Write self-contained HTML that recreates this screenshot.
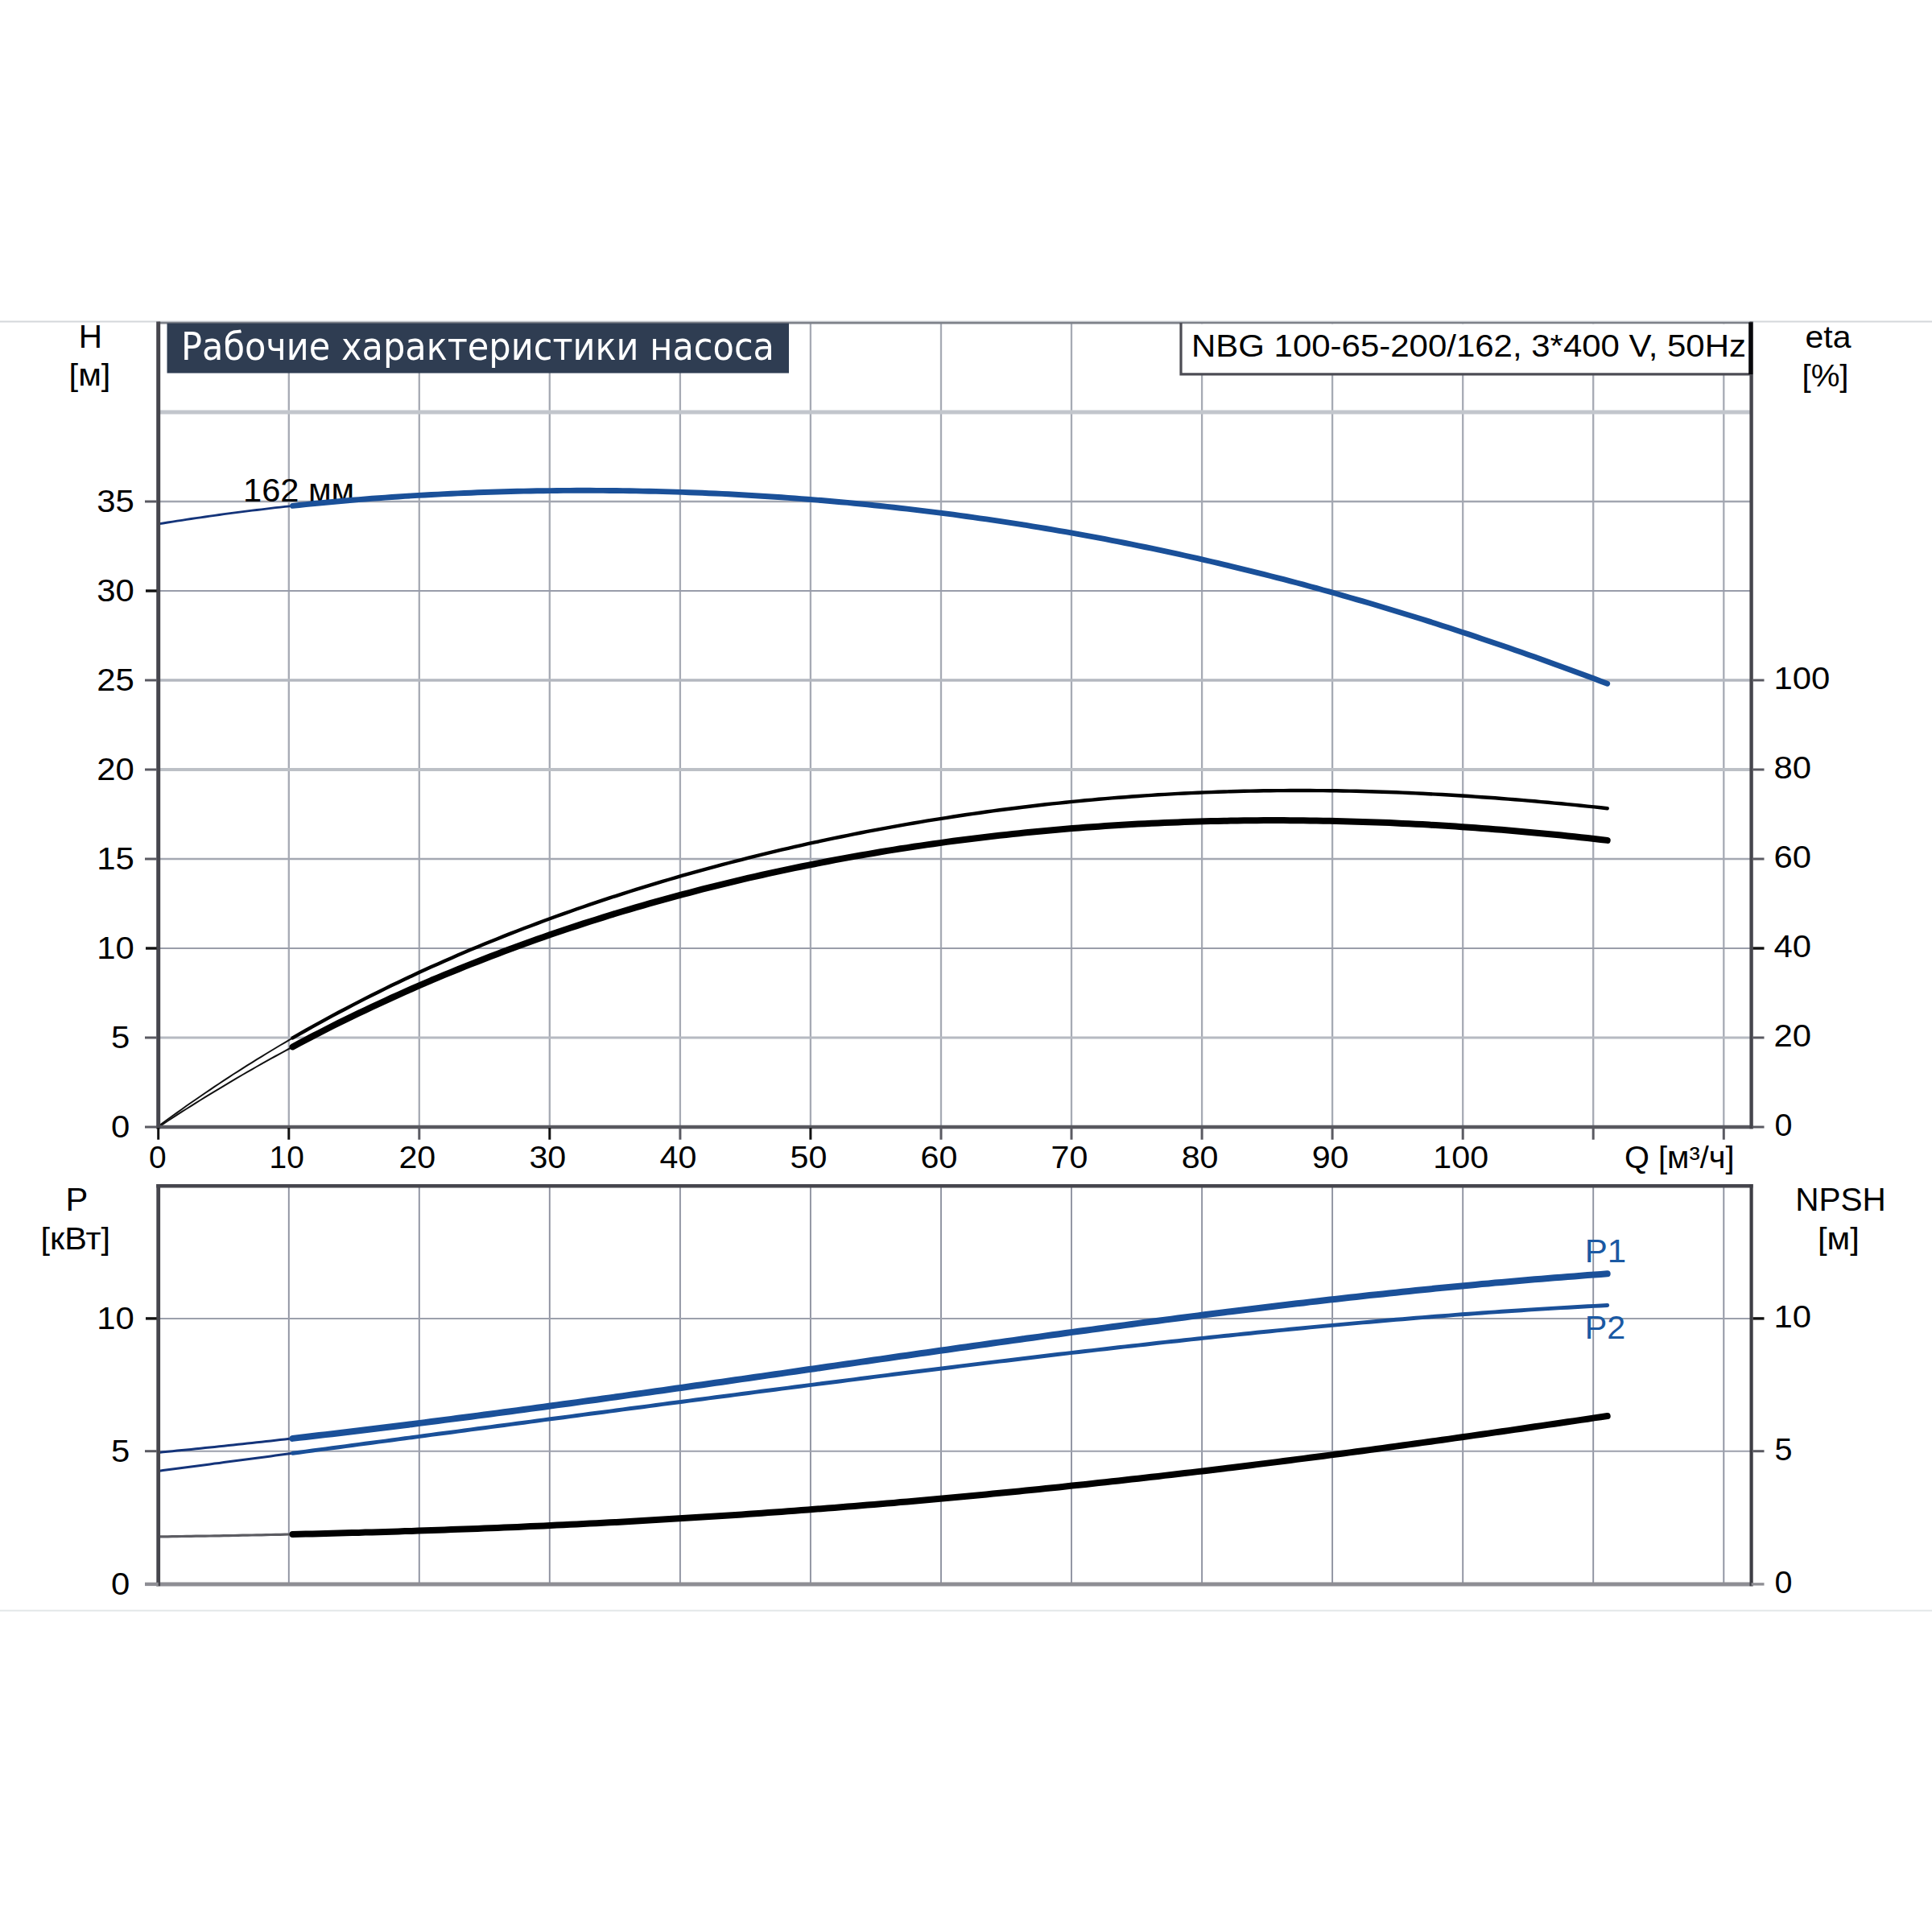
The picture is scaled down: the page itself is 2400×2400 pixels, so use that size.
<!DOCTYPE html>
<html lang="ru"><head><meta charset="utf-8"><title>Рабочие характеристики насоса</title>
<style>
html,body{margin:0;padding:0;background:#fff;}
body{width:2400px;height:2400px;overflow:hidden;}
svg{display:block;}
text{font-family:"Liberation Sans",Arial,sans-serif;}
.ttl{font-family:"DejaVu Sans Condensed","DejaVu Sans",sans-serif;}
</style></head><body>
<svg width="2400" height="2400" viewBox="0 0 2400 2400">
<rect x="0" y="0" width="2400" height="2400" fill="#ffffff"/>

<line x1="0" y1="399.5" x2="2400" y2="399.5" stroke="#d4d7db" stroke-width="2"/>
<line x1="0" y1="2000.8" x2="2400" y2="2000.8" stroke="#e3e7e9" stroke-width="2"/>
<g stroke="#a6aab4" stroke-width="2.3" fill="none">
<line x1="358.8" y1="401" x2="358.8" y2="1400"/>
<line x1="520.8" y1="401" x2="520.8" y2="1400"/>
<line x1="682.8" y1="401" x2="682.8" y2="1400"/>
<line x1="844.9" y1="401" x2="844.9" y2="1400"/>
<line x1="1006.9" y1="401" x2="1006.9" y2="1400"/>
<line x1="1169.0" y1="401" x2="1169.0" y2="1400"/>
<line x1="1331.0" y1="401" x2="1331.0" y2="1400"/>
<line x1="1493.1" y1="401" x2="1493.1" y2="1400"/>
<line x1="1655.1" y1="401" x2="1655.1" y2="1400"/>
<line x1="1817.2" y1="401" x2="1817.2" y2="1400"/>
<line x1="1979.2" y1="401" x2="1979.2" y2="1400"/>
<line x1="2141.3" y1="401" x2="2141.3" y2="1400"/>
<line x1="196.7" y1="1289.0" x2="2175.6" y2="1289.0" stroke="#b6bac2" stroke-width="3.2"/>
<line x1="196.7" y1="1178.0" x2="2175.6" y2="1178.0" stroke="#9a9eaa" stroke-width="2.0"/>
<line x1="196.7" y1="1067.0" x2="2175.6" y2="1067.0" stroke="#a4a8b2" stroke-width="2.4"/>
<line x1="196.7" y1="956.0" x2="2175.6" y2="956.0" stroke="#bcc0c6" stroke-width="3.8"/>
<line x1="196.7" y1="845.0" x2="2175.6" y2="845.0" stroke="#b4b8c0" stroke-width="3.4"/>
<line x1="196.7" y1="734.0" x2="2175.6" y2="734.0" stroke="#989caa" stroke-width="2.0"/>
<line x1="196.7" y1="623.0" x2="2175.6" y2="623.0" stroke="#a2a6b0" stroke-width="2.4"/>
</g>
<line x1="196.7" y1="512" x2="2175.6" y2="512" stroke="#c2c6cc" stroke-width="5"/>
<line x1="196.7" y1="401.2" x2="2175.6" y2="401.2" stroke="#7e828a" stroke-width="2.8"/>
<g stroke="#8e92a0" stroke-width="1.9" fill="none">
<line x1="358.8" y1="1473" x2="358.8" y2="1967.5"/>
<line x1="520.8" y1="1473" x2="520.8" y2="1967.5"/>
<line x1="682.8" y1="1473" x2="682.8" y2="1967.5"/>
<line x1="844.9" y1="1473" x2="844.9" y2="1967.5"/>
<line x1="1006.9" y1="1473" x2="1006.9" y2="1967.5"/>
<line x1="1169.0" y1="1473" x2="1169.0" y2="1967.5"/>
<line x1="1331.0" y1="1473" x2="1331.0" y2="1967.5"/>
<line x1="1493.1" y1="1473" x2="1493.1" y2="1967.5"/>
<line x1="1655.1" y1="1473" x2="1655.1" y2="1967.5"/>
<line x1="1817.2" y1="1473" x2="1817.2" y2="1967.5"/>
<line x1="1979.2" y1="1473" x2="1979.2" y2="1967.5"/>
<line x1="2141.3" y1="1473" x2="2141.3" y2="1967.5"/>
<line x1="196.7" y1="1802.7" x2="2175.6" y2="1802.7" stroke="#9ca0ac" stroke-width="2"/>
<line x1="196.7" y1="1637.9" x2="2175.6" y2="1637.9" stroke="#9ca0ac" stroke-width="2"/>
</g>
<text transform="translate(302.0 623.3) scale(1.04 1)" font-size="40" text-anchor="start" fill="#000">162 мм</text>
<path d="M196.7 1399.1 L202.5 1394.8 L208.3 1390.5 L214.2 1386.3 L220.0 1382.1 L225.8 1378.0 L231.6 1373.8 L237.4 1369.8 L243.3 1365.7 L249.1 1361.7 L254.9 1357.7 L260.7 1353.8 L266.5 1349.9 L272.4 1346.0 L278.2 1342.1 L284.0 1338.3 L289.8 1334.5 L295.7 1330.8 L301.5 1327.1 L307.3 1323.4 L313.1 1319.8 L318.9 1316.1 L324.8 1312.6 L330.6 1309.0 L336.4 1305.5 L342.2 1302.0 L348.0 1298.5 L353.9 1295.1 L359.7 1291.7 L365.5 1288.3" fill="none" stroke="#111" stroke-width="2.0"/>
<path d="M363.5 1289.4 L371.7 1284.7 L379.9 1280.0 L388.1 1275.4 L396.3 1270.9 L404.5 1266.4 L412.7 1261.9 L420.9 1257.5 L429.2 1253.2 L437.4 1248.9 L445.6 1244.6 L453.8 1240.4 L462.0 1236.3 L470.2 1232.2 L478.4 1228.1 L486.6 1224.1 L494.8 1220.2 L503.0 1216.3 L511.2 1212.4 L519.4 1208.6 L527.6 1204.8 L535.8 1201.1 L544.1 1197.4 L552.3 1193.8 L560.5 1190.2 L568.7 1186.6 L576.9 1183.1 L585.1 1179.6 L593.3 1176.2 L601.5 1172.8 L609.7 1169.5 L617.9 1166.2 L626.1 1162.9 L634.3 1159.6 L642.5 1156.5 L650.7 1153.3 L659.0 1150.2 L667.2 1147.1 L675.4 1144.0 L683.6 1141.0 L691.8 1138.0 L700.0 1135.1 L708.2 1132.2 L716.4 1129.3 L724.6 1126.5 L732.8 1123.7 L741.0 1120.9 L749.2 1118.1 L757.4 1115.4 L765.6 1112.8 L773.9 1110.1 L782.1 1107.5 L790.3 1104.9 L798.5 1102.4 L806.7 1099.9 L814.9 1097.4 L823.1 1094.9 L831.3 1092.5 L839.5 1090.1 L847.7 1087.7 L855.9 1085.4 L864.1 1083.1 L872.3 1080.8 L880.5 1078.6 L888.8 1076.4 L897.0 1074.2 L905.2 1072.0 L913.4 1069.9 L921.6 1067.8 L929.8 1065.7 L938.0 1063.6 L946.2 1061.6 L954.4 1059.6 L962.6 1057.7 L970.8 1055.7 L979.0 1053.8 L987.2 1051.9 L995.4 1050.1 L1003.6 1048.2 L1011.9 1046.4 L1020.1 1044.7 L1028.3 1042.9 L1036.5 1041.2 L1044.7 1039.5 L1052.9 1037.8 L1061.1 1036.2 L1069.3 1034.5 L1077.5 1032.9 L1085.7 1031.4 L1093.9 1029.8 L1102.1 1028.3 L1110.3 1026.8 L1118.5 1025.3 L1126.8 1023.9 L1135.0 1022.5 L1143.2 1021.1 L1151.4 1019.7 L1159.6 1018.4 L1167.8 1017.1 L1176.0 1015.8 L1184.2 1014.5 L1192.4 1013.3 L1200.6 1012.0 L1208.8 1010.9 L1217.0 1009.7 L1225.2 1008.5 L1233.4 1007.4 L1241.7 1006.3 L1249.9 1005.3 L1258.1 1004.2 L1266.3 1003.2 L1274.5 1002.2 L1282.7 1001.2 L1290.9 1000.3 L1299.1 999.3 L1307.3 998.4 L1315.5 997.6 L1323.7 996.7 L1331.9 995.9 L1340.1 995.1 L1348.3 994.3 L1356.6 993.6 L1364.8 992.8 L1373.0 992.1 L1381.2 991.4 L1389.4 990.8 L1397.6 990.2 L1405.8 989.5 L1414.0 989.0 L1422.2 988.4 L1430.4 987.9 L1438.6 987.3 L1446.8 986.9 L1455.0 986.4 L1463.2 985.9 L1471.4 985.5 L1479.7 985.1 L1487.9 984.8 L1496.1 984.4 L1504.3 984.1 L1512.5 983.8 L1520.7 983.5 L1528.9 983.3 L1537.1 983.0 L1545.3 982.8 L1553.5 982.6 L1561.7 982.5 L1569.9 982.3 L1578.1 982.2 L1586.3 982.1 L1594.6 982.1 L1602.8 982.0 L1611.0 982.0 L1619.2 982.0 L1627.4 982.0 L1635.6 982.1 L1643.8 982.1 L1652.0 982.2 L1660.2 982.3 L1668.4 982.5 L1676.6 982.6 L1684.8 982.8 L1693.0 983.0 L1701.2 983.2 L1709.5 983.5 L1717.7 983.7 L1725.9 984.0 L1734.1 984.3 L1742.3 984.6 L1750.5 985.0 L1758.7 985.4 L1766.9 985.8 L1775.1 986.2 L1783.3 986.6 L1791.5 987.0 L1799.7 987.5 L1807.9 988.0 L1816.1 988.5 L1824.4 989.0 L1832.6 989.6 L1840.8 990.2 L1849.0 990.7 L1857.2 991.3 L1865.4 992.0 L1873.6 992.6 L1881.8 993.3 L1890.0 993.9 L1898.2 994.6 L1906.4 995.3 L1914.6 996.1 L1922.8 996.8 L1931.0 997.6 L1939.3 998.3 L1947.5 999.1 L1955.7 999.9 L1963.9 1000.8 L1972.1 1001.6 L1980.3 1002.4 L1988.5 1003.3 L1996.7 1004.2" fill="none" stroke="#000" stroke-width="4.4" stroke-linecap="round" stroke-linejoin="round"/>
<path d="M196.7 1400.2 L202.5 1396.3 L208.3 1392.5 L214.2 1388.7 L220.0 1384.9 L225.8 1381.2 L231.6 1377.5 L237.4 1373.8 L243.3 1370.1 L249.1 1366.5 L254.9 1362.9 L260.7 1359.3 L266.5 1355.8 L272.4 1352.3 L278.2 1348.8 L284.0 1345.3 L289.8 1341.8 L295.7 1338.4 L301.5 1335.0 L307.3 1331.7 L313.1 1328.3 L318.9 1325.0 L324.8 1321.7 L330.6 1318.4 L336.4 1315.2 L342.2 1312.0 L348.0 1308.8 L353.9 1305.6 L359.7 1302.5 L365.5 1299.3" fill="none" stroke="#111" stroke-width="2.0"/>
<path d="M363.5 1300.4 L371.7 1296.0 L379.9 1291.7 L388.1 1287.4 L396.3 1283.2 L404.5 1279.0 L412.7 1274.8 L420.9 1270.7 L429.2 1266.7 L437.4 1262.7 L445.6 1258.7 L453.8 1254.8 L462.0 1250.9 L470.2 1247.1 L478.4 1243.3 L486.6 1239.5 L494.8 1235.8 L503.0 1232.1 L511.2 1228.5 L519.4 1224.9 L527.6 1221.4 L535.8 1217.8 L544.1 1214.4 L552.3 1210.9 L560.5 1207.6 L568.7 1204.2 L576.9 1200.9 L585.1 1197.6 L593.3 1194.4 L601.5 1191.2 L609.7 1188.0 L617.9 1184.9 L626.1 1181.8 L634.3 1178.7 L642.5 1175.7 L650.7 1172.7 L659.0 1169.8 L667.2 1166.8 L675.4 1164.0 L683.6 1161.1 L691.8 1158.3 L700.0 1155.5 L708.2 1152.8 L716.4 1150.1 L724.6 1147.4 L732.8 1144.8 L741.0 1142.2 L749.2 1139.6 L757.4 1137.0 L765.6 1134.5 L773.9 1132.0 L782.1 1129.6 L790.3 1127.2 L798.5 1124.8 L806.7 1122.4 L814.9 1120.1 L823.1 1117.8 L831.3 1115.6 L839.5 1113.3 L847.7 1111.1 L855.9 1109.0 L864.1 1106.8 L872.3 1104.7 L880.5 1102.6 L888.8 1100.6 L897.0 1098.6 L905.2 1096.6 L913.4 1094.6 L921.6 1092.7 L929.8 1090.7 L938.0 1088.9 L946.2 1087.0 L954.4 1085.2 L962.6 1083.4 L970.8 1081.6 L979.0 1079.9 L987.2 1078.2 L995.4 1076.5 L1003.6 1074.8 L1011.9 1073.2 L1020.1 1071.6 L1028.3 1070.0 L1036.5 1068.4 L1044.7 1066.9 L1052.9 1065.4 L1061.1 1063.9 L1069.3 1062.5 L1077.5 1061.1 L1085.7 1059.7 L1093.9 1058.3 L1102.1 1056.9 L1110.3 1055.6 L1118.5 1054.3 L1126.8 1053.1 L1135.0 1051.8 L1143.2 1050.6 L1151.4 1049.4 L1159.6 1048.2 L1167.8 1047.1 L1176.0 1045.9 L1184.2 1044.8 L1192.4 1043.8 L1200.6 1042.7 L1208.8 1041.7 L1217.0 1040.7 L1225.2 1039.7 L1233.4 1038.8 L1241.7 1037.8 L1249.9 1036.9 L1258.1 1036.0 L1266.3 1035.2 L1274.5 1034.3 L1282.7 1033.5 L1290.9 1032.7 L1299.1 1032.0 L1307.3 1031.2 L1315.5 1030.5 L1323.7 1029.8 L1331.9 1029.1 L1340.1 1028.5 L1348.3 1027.8 L1356.6 1027.2 L1364.8 1026.7 L1373.0 1026.1 L1381.2 1025.6 L1389.4 1025.0 L1397.6 1024.5 L1405.8 1024.1 L1414.0 1023.6 L1422.2 1023.2 L1430.4 1022.8 L1438.6 1022.4 L1446.8 1022.0 L1455.0 1021.7 L1463.2 1021.4 L1471.4 1021.1 L1479.7 1020.8 L1487.9 1020.5 L1496.1 1020.3 L1504.3 1020.1 L1512.5 1019.9 L1520.7 1019.7 L1528.9 1019.6 L1537.1 1019.4 L1545.3 1019.3 L1553.5 1019.2 L1561.7 1019.2 L1569.9 1019.1 L1578.1 1019.1 L1586.3 1019.1 L1594.6 1019.1 L1602.8 1019.2 L1611.0 1019.2 L1619.2 1019.3 L1627.4 1019.4 L1635.6 1019.5 L1643.8 1019.7 L1652.0 1019.8 L1660.2 1020.0 L1668.4 1020.2 L1676.6 1020.4 L1684.8 1020.7 L1693.0 1020.9 L1701.2 1021.2 L1709.5 1021.5 L1717.7 1021.8 L1725.9 1022.1 L1734.1 1022.5 L1742.3 1022.9 L1750.5 1023.3 L1758.7 1023.7 L1766.9 1024.1 L1775.1 1024.6 L1783.3 1025.1 L1791.5 1025.6 L1799.7 1026.1 L1807.9 1026.6 L1816.1 1027.2 L1824.4 1027.7 L1832.6 1028.3 L1840.8 1028.9 L1849.0 1029.5 L1857.2 1030.2 L1865.4 1030.8 L1873.6 1031.5 L1881.8 1032.2 L1890.0 1032.9 L1898.2 1033.7 L1906.4 1034.4 L1914.6 1035.2 L1922.8 1036.0 L1931.0 1036.8 L1939.3 1037.6 L1947.5 1038.5 L1955.7 1039.3 L1963.9 1040.2 L1972.1 1041.1 L1980.3 1042.0 L1988.5 1042.9 L1996.7 1043.9" fill="none" stroke="#000" stroke-width="8" stroke-linecap="round" stroke-linejoin="round"/>
<path d="M196.7 650.9 L202.5 650.0 L208.3 649.0 L214.2 648.1 L220.0 647.2 L225.8 646.3 L231.6 645.4 L237.4 644.5 L243.3 643.7 L249.1 642.8 L254.9 642.0 L260.7 641.1 L266.5 640.3 L272.4 639.5 L278.2 638.7 L284.0 637.9 L289.8 637.2 L295.7 636.4 L301.5 635.6 L307.3 634.9 L313.1 634.2 L318.9 633.5 L324.8 632.8 L330.6 632.1 L336.4 631.4 L342.2 630.7 L348.0 630.1 L353.9 629.4 L359.7 628.8 L365.5 628.2" fill="none" stroke="#14347a" stroke-width="2.8"/>
<path d="M363.5 628.4 L371.7 627.5 L379.9 626.6 L388.1 625.8 L396.3 625.0 L404.5 624.2 L412.7 623.5 L420.9 622.7 L429.2 622.0 L437.4 621.3 L445.6 620.6 L453.8 620.0 L462.0 619.3 L470.2 618.7 L478.4 618.1 L486.6 617.5 L494.8 617.0 L503.0 616.4 L511.2 615.9 L519.4 615.4 L527.6 615.0 L535.8 614.5 L544.1 614.1 L552.3 613.6 L560.5 613.2 L568.7 612.9 L576.9 612.5 L585.1 612.2 L593.3 611.8 L601.5 611.5 L609.7 611.3 L617.9 611.0 L626.1 610.8 L634.3 610.5 L642.5 610.3 L650.7 610.1 L659.0 610.0 L667.2 609.8 L675.4 609.7 L683.6 609.6 L691.8 609.5 L700.0 609.4 L708.2 609.4 L716.4 609.3 L724.6 609.3 L732.8 609.3 L741.0 609.4 L749.2 609.4 L757.4 609.5 L765.6 609.5 L773.9 609.6 L782.1 609.8 L790.3 609.9 L798.5 610.1 L806.7 610.2 L814.9 610.4 L823.1 610.6 L831.3 610.9 L839.5 611.1 L847.7 611.4 L855.9 611.7 L864.1 612.0 L872.3 612.3 L880.5 612.7 L888.8 613.0 L897.0 613.4 L905.2 613.8 L913.4 614.3 L921.6 614.7 L929.8 615.2 L938.0 615.7 L946.2 616.2 L954.4 616.7 L962.6 617.2 L970.8 617.8 L979.0 618.4 L987.2 619.0 L995.4 619.6 L1003.6 620.2 L1011.9 620.9 L1020.1 621.5 L1028.3 622.2 L1036.5 623.0 L1044.7 623.7 L1052.9 624.4 L1061.1 625.2 L1069.3 626.0 L1077.5 626.8 L1085.7 627.7 L1093.9 628.5 L1102.1 629.4 L1110.3 630.3 L1118.5 631.2 L1126.8 632.1 L1135.0 633.1 L1143.2 634.1 L1151.4 635.1 L1159.6 636.1 L1167.8 637.1 L1176.0 638.2 L1184.2 639.2 L1192.4 640.3 L1200.6 641.5 L1208.8 642.6 L1217.0 643.8 L1225.2 644.9 L1233.4 646.1 L1241.7 647.4 L1249.9 648.6 L1258.1 649.9 L1266.3 651.1 L1274.5 652.4 L1282.7 653.8 L1290.9 655.1 L1299.1 656.5 L1307.3 657.9 L1315.5 659.3 L1323.7 660.7 L1331.9 662.1 L1340.1 663.6 L1348.3 665.1 L1356.6 666.6 L1364.8 668.2 L1373.0 669.7 L1381.2 671.3 L1389.4 672.9 L1397.6 674.5 L1405.8 676.1 L1414.0 677.8 L1422.2 679.5 L1430.4 681.2 L1438.6 682.9 L1446.8 684.7 L1455.0 686.4 L1463.2 688.2 L1471.4 690.0 L1479.7 691.8 L1487.9 693.7 L1496.1 695.6 L1504.3 697.5 L1512.5 699.4 L1520.7 701.3 L1528.9 703.3 L1537.1 705.3 L1545.3 707.3 L1553.5 709.3 L1561.7 711.3 L1569.9 713.4 L1578.1 715.5 L1586.3 717.6 L1594.6 719.7 L1602.8 721.9 L1611.0 724.0 L1619.2 726.2 L1627.4 728.5 L1635.6 730.7 L1643.8 733.0 L1652.0 735.2 L1660.2 737.5 L1668.4 739.9 L1676.6 742.2 L1684.8 744.6 L1693.0 746.9 L1701.2 749.3 L1709.5 751.8 L1717.7 754.2 L1725.9 756.7 L1734.1 759.2 L1742.3 761.7 L1750.5 764.2 L1758.7 766.8 L1766.9 769.3 L1775.1 771.9 L1783.3 774.5 L1791.5 777.2 L1799.7 779.8 L1807.9 782.5 L1816.1 785.2 L1824.4 787.9 L1832.6 790.6 L1840.8 793.4 L1849.0 796.2 L1857.2 799.0 L1865.4 801.8 L1873.6 804.6 L1881.8 807.5 L1890.0 810.3 L1898.2 813.2 L1906.4 816.1 L1914.6 819.0 L1922.8 822.0 L1931.0 825.0 L1939.3 827.9 L1947.5 830.9 L1955.7 834.0 L1963.9 837.0 L1972.1 840.1 L1980.3 843.1 L1988.5 846.2 L1996.7 849.3" fill="none" stroke="#1a5099" stroke-width="6.9" stroke-linecap="round" stroke-linejoin="round"/>
<path d="M196.7 1804.4 L202.5 1803.8 L208.3 1803.2 L214.2 1802.7 L220.0 1802.1 L225.8 1801.5 L231.6 1801.0 L237.4 1800.4 L243.3 1799.8 L249.1 1799.2 L254.9 1798.6 L260.7 1798.0 L266.5 1797.4 L272.4 1796.8 L278.2 1796.2 L284.0 1795.6 L289.8 1795.0 L295.7 1794.3 L301.5 1793.7 L307.3 1793.1 L313.1 1792.5 L318.9 1791.8 L324.8 1791.2 L330.6 1790.5 L336.4 1789.9 L342.2 1789.3 L348.0 1788.6 L353.9 1788.0 L359.7 1787.3 L365.5 1786.6" fill="none" stroke="#14347a" stroke-width="3.0"/>
<path d="M363.5 1786.9 L371.7 1785.9 L379.9 1785.0 L388.1 1784.0 L396.3 1783.1 L404.5 1782.1 L412.7 1781.2 L420.9 1780.2 L429.2 1779.2 L437.4 1778.2 L445.6 1777.3 L453.8 1776.3 L462.0 1775.3 L470.2 1774.3 L478.4 1773.3 L486.6 1772.2 L494.8 1771.2 L503.0 1770.2 L511.2 1769.2 L519.4 1768.1 L527.6 1767.1 L535.8 1766.0 L544.1 1765.0 L552.3 1763.9 L560.5 1762.9 L568.7 1761.8 L576.9 1760.8 L585.1 1759.7 L593.3 1758.6 L601.5 1757.5 L609.7 1756.5 L617.9 1755.4 L626.1 1754.3 L634.3 1753.2 L642.5 1752.1 L650.7 1751.0 L659.0 1749.9 L667.2 1748.8 L675.4 1747.7 L683.6 1746.5 L691.8 1745.4 L700.0 1744.3 L708.2 1743.2 L716.4 1742.1 L724.6 1740.9 L732.8 1739.8 L741.0 1738.7 L749.2 1737.5 L757.4 1736.4 L765.6 1735.2 L773.9 1734.1 L782.1 1732.9 L790.3 1731.8 L798.5 1730.6 L806.7 1729.5 L814.9 1728.3 L823.1 1727.2 L831.3 1726.0 L839.5 1724.8 L847.7 1723.7 L855.9 1722.5 L864.1 1721.3 L872.3 1720.2 L880.5 1719.0 L888.8 1717.8 L897.0 1716.7 L905.2 1715.5 L913.4 1714.3 L921.6 1713.1 L929.8 1712.0 L938.0 1710.8 L946.2 1709.6 L954.4 1708.4 L962.6 1707.2 L970.8 1706.1 L979.0 1704.9 L987.2 1703.7 L995.4 1702.5 L1003.6 1701.3 L1011.9 1700.2 L1020.1 1699.0 L1028.3 1697.8 L1036.5 1696.6 L1044.7 1695.4 L1052.9 1694.3 L1061.1 1693.1 L1069.3 1691.9 L1077.5 1690.7 L1085.7 1689.5 L1093.9 1688.4 L1102.1 1687.2 L1110.3 1686.0 L1118.5 1684.8 L1126.8 1683.7 L1135.0 1682.5 L1143.2 1681.3 L1151.4 1680.2 L1159.6 1679.0 L1167.8 1677.8 L1176.0 1676.7 L1184.2 1675.5 L1192.4 1674.3 L1200.6 1673.2 L1208.8 1672.0 L1217.0 1670.9 L1225.2 1669.7 L1233.4 1668.5 L1241.7 1667.4 L1249.9 1666.3 L1258.1 1665.1 L1266.3 1664.0 L1274.5 1662.8 L1282.7 1661.7 L1290.9 1660.6 L1299.1 1659.4 L1307.3 1658.3 L1315.5 1657.2 L1323.7 1656.0 L1331.9 1654.9 L1340.1 1653.8 L1348.3 1652.7 L1356.6 1651.6 L1364.8 1650.5 L1373.0 1649.4 L1381.2 1648.3 L1389.4 1647.2 L1397.6 1646.1 L1405.8 1645.0 L1414.0 1643.9 L1422.2 1642.8 L1430.4 1641.8 L1438.6 1640.7 L1446.8 1639.6 L1455.0 1638.6 L1463.2 1637.5 L1471.4 1636.5 L1479.7 1635.4 L1487.9 1634.4 L1496.1 1633.3 L1504.3 1632.3 L1512.5 1631.3 L1520.7 1630.2 L1528.9 1629.2 L1537.1 1628.2 L1545.3 1627.2 L1553.5 1626.2 L1561.7 1625.2 L1569.9 1624.2 L1578.1 1623.2 L1586.3 1622.2 L1594.6 1621.3 L1602.8 1620.3 L1611.0 1619.3 L1619.2 1618.4 L1627.4 1617.4 L1635.6 1616.5 L1643.8 1615.5 L1652.0 1614.6 L1660.2 1613.7 L1668.4 1612.8 L1676.6 1611.8 L1684.8 1610.9 L1693.0 1610.0 L1701.2 1609.1 L1709.5 1608.3 L1717.7 1607.4 L1725.9 1606.5 L1734.1 1605.7 L1742.3 1604.8 L1750.5 1603.9 L1758.7 1603.1 L1766.9 1602.3 L1775.1 1601.4 L1783.3 1600.6 L1791.5 1599.8 L1799.7 1599.0 L1807.9 1598.2 L1816.1 1597.4 L1824.4 1596.7 L1832.6 1595.9 L1840.8 1595.1 L1849.0 1594.4 L1857.2 1593.6 L1865.4 1592.9 L1873.6 1592.2 L1881.8 1591.4 L1890.0 1590.7 L1898.2 1590.0 L1906.4 1589.3 L1914.6 1588.7 L1922.8 1588.0 L1931.0 1587.3 L1939.3 1586.7 L1947.5 1586.0 L1955.7 1585.4 L1963.9 1584.8 L1972.1 1584.1 L1980.3 1583.5 L1988.5 1582.9 L1996.7 1582.3" fill="none" stroke="#1a5099" stroke-width="8.0" stroke-linecap="round" stroke-linejoin="round"/>
<path d="M196.7 1827.4 L202.5 1826.6 L208.3 1825.8 L214.2 1825.0 L220.0 1824.3 L225.8 1823.5 L231.6 1822.7 L237.4 1822.0 L243.3 1821.2 L249.1 1820.4 L254.9 1819.7 L260.7 1818.9 L266.5 1818.1 L272.4 1817.4 L278.2 1816.6 L284.0 1815.8 L289.8 1815.0 L295.7 1814.3 L301.5 1813.5 L307.3 1812.7 L313.1 1812.0 L318.9 1811.2 L324.8 1810.4 L330.6 1809.7 L336.4 1808.9 L342.2 1808.1 L348.0 1807.3 L353.9 1806.6 L359.7 1805.8 L365.5 1805.0" fill="none" stroke="#14347a" stroke-width="3.0"/>
<path d="M363.5 1805.3 L371.7 1804.2 L379.9 1803.1 L388.1 1802.0 L396.3 1800.9 L404.5 1799.9 L412.7 1798.8 L420.9 1797.7 L429.2 1796.6 L437.4 1795.5 L445.6 1794.4 L453.8 1793.3 L462.0 1792.2 L470.2 1791.1 L478.4 1790.1 L486.6 1789.0 L494.8 1787.9 L503.0 1786.8 L511.2 1785.7 L519.4 1784.6 L527.6 1783.5 L535.8 1782.4 L544.1 1781.3 L552.3 1780.3 L560.5 1779.2 L568.7 1778.1 L576.9 1777.0 L585.1 1775.9 L593.3 1774.8 L601.5 1773.7 L609.7 1772.6 L617.9 1771.5 L626.1 1770.5 L634.3 1769.4 L642.5 1768.3 L650.7 1767.2 L659.0 1766.1 L667.2 1765.0 L675.4 1763.9 L683.6 1762.8 L691.8 1761.8 L700.0 1760.7 L708.2 1759.6 L716.4 1758.5 L724.6 1757.4 L732.8 1756.3 L741.0 1755.2 L749.2 1754.2 L757.4 1753.1 L765.6 1752.0 L773.9 1750.9 L782.1 1749.8 L790.3 1748.7 L798.5 1747.7 L806.7 1746.6 L814.9 1745.5 L823.1 1744.4 L831.3 1743.3 L839.5 1742.3 L847.7 1741.2 L855.9 1740.1 L864.1 1739.0 L872.3 1738.0 L880.5 1736.9 L888.8 1735.8 L897.0 1734.7 L905.2 1733.7 L913.4 1732.6 L921.6 1731.5 L929.8 1730.5 L938.0 1729.4 L946.2 1728.3 L954.4 1727.3 L962.6 1726.2 L970.8 1725.1 L979.0 1724.1 L987.2 1723.0 L995.4 1722.0 L1003.6 1720.9 L1011.9 1719.9 L1020.1 1718.8 L1028.3 1717.8 L1036.5 1716.7 L1044.7 1715.7 L1052.9 1714.6 L1061.1 1713.6 L1069.3 1712.5 L1077.5 1711.5 L1085.7 1710.4 L1093.9 1709.4 L1102.1 1708.4 L1110.3 1707.3 L1118.5 1706.3 L1126.8 1705.3 L1135.0 1704.3 L1143.2 1703.2 L1151.4 1702.2 L1159.6 1701.2 L1167.8 1700.2 L1176.0 1699.2 L1184.2 1698.2 L1192.4 1697.1 L1200.6 1696.1 L1208.8 1695.1 L1217.0 1694.1 L1225.2 1693.1 L1233.4 1692.1 L1241.7 1691.1 L1249.9 1690.2 L1258.1 1689.2 L1266.3 1688.2 L1274.5 1687.2 L1282.7 1686.2 L1290.9 1685.2 L1299.1 1684.3 L1307.3 1683.3 L1315.5 1682.3 L1323.7 1681.4 L1331.9 1680.4 L1340.1 1679.5 L1348.3 1678.5 L1356.6 1677.6 L1364.8 1676.6 L1373.0 1675.7 L1381.2 1674.8 L1389.4 1673.8 L1397.6 1672.9 L1405.8 1672.0 L1414.0 1671.1 L1422.2 1670.2 L1430.4 1669.2 L1438.6 1668.3 L1446.8 1667.4 L1455.0 1666.5 L1463.2 1665.7 L1471.4 1664.8 L1479.7 1663.9 L1487.9 1663.0 L1496.1 1662.1 L1504.3 1661.3 L1512.5 1660.4 L1520.7 1659.5 L1528.9 1658.7 L1537.1 1657.9 L1545.3 1657.0 L1553.5 1656.2 L1561.7 1655.3 L1569.9 1654.5 L1578.1 1653.7 L1586.3 1652.9 L1594.6 1652.1 L1602.8 1651.3 L1611.0 1650.5 L1619.2 1649.7 L1627.4 1648.9 L1635.6 1648.1 L1643.8 1647.4 L1652.0 1646.6 L1660.2 1645.9 L1668.4 1645.1 L1676.6 1644.4 L1684.8 1643.6 L1693.0 1642.9 L1701.2 1642.2 L1709.5 1641.5 L1717.7 1640.7 L1725.9 1640.0 L1734.1 1639.3 L1742.3 1638.7 L1750.5 1638.0 L1758.7 1637.3 L1766.9 1636.6 L1775.1 1636.0 L1783.3 1635.3 L1791.5 1634.7 L1799.7 1634.1 L1807.9 1633.4 L1816.1 1632.8 L1824.4 1632.2 L1832.6 1631.6 L1840.8 1631.0 L1849.0 1630.4 L1857.2 1629.9 L1865.4 1629.3 L1873.6 1628.7 L1881.8 1628.2 L1890.0 1627.7 L1898.2 1627.1 L1906.4 1626.6 L1914.6 1626.1 L1922.8 1625.6 L1931.0 1625.1 L1939.3 1624.6 L1947.5 1624.2 L1955.7 1623.7 L1963.9 1623.2 L1972.1 1622.8 L1980.3 1622.4 L1988.5 1622.0 L1996.7 1621.5" fill="none" stroke="#1a5099" stroke-width="4.9" stroke-linecap="round" stroke-linejoin="round"/>
<path d="M196.7 1908.9 L202.5 1908.8 L208.3 1908.8 L214.2 1908.7 L220.0 1908.6 L225.8 1908.5 L231.6 1908.4 L237.4 1908.3 L243.3 1908.2 L249.1 1908.2 L254.9 1908.1 L260.7 1908.0 L266.5 1907.9 L272.4 1907.8 L278.2 1907.7 L284.0 1907.6 L289.8 1907.5 L295.7 1907.4 L301.5 1907.2 L307.3 1907.1 L313.1 1907.0 L318.9 1906.9 L324.8 1906.8 L330.6 1906.7 L336.4 1906.5 L342.2 1906.4 L348.0 1906.3 L353.9 1906.2 L359.7 1906.0 L365.5 1905.9" fill="none" stroke="#5c5c62" stroke-width="3.2"/>
<path d="M363.5 1906.0 L371.7 1905.8 L379.9 1905.6 L388.1 1905.4 L396.3 1905.2 L404.5 1905.0 L412.7 1904.8 L420.9 1904.5 L429.2 1904.3 L437.4 1904.1 L445.6 1903.9 L453.8 1903.6 L462.0 1903.4 L470.2 1903.2 L478.4 1902.9 L486.6 1902.7 L494.8 1902.4 L503.0 1902.1 L511.2 1901.9 L519.4 1901.6 L527.6 1901.3 L535.8 1901.0 L544.1 1900.7 L552.3 1900.4 L560.5 1900.1 L568.7 1899.8 L576.9 1899.5 L585.1 1899.2 L593.3 1898.9 L601.5 1898.6 L609.7 1898.2 L617.9 1897.9 L626.1 1897.6 L634.3 1897.2 L642.5 1896.9 L650.7 1896.5 L659.0 1896.1 L667.2 1895.8 L675.4 1895.4 L683.6 1895.0 L691.8 1894.6 L700.0 1894.2 L708.2 1893.8 L716.4 1893.4 L724.6 1893.0 L732.8 1892.6 L741.0 1892.2 L749.2 1891.7 L757.4 1891.3 L765.6 1890.9 L773.9 1890.4 L782.1 1890.0 L790.3 1889.5 L798.5 1889.0 L806.7 1888.6 L814.9 1888.1 L823.1 1887.6 L831.3 1887.1 L839.5 1886.6 L847.7 1886.1 L855.9 1885.6 L864.1 1885.1 L872.3 1884.6 L880.5 1884.1 L888.8 1883.5 L897.0 1883.0 L905.2 1882.5 L913.4 1881.9 L921.6 1881.4 L929.8 1880.8 L938.0 1880.2 L946.2 1879.7 L954.4 1879.1 L962.6 1878.5 L970.8 1877.9 L979.0 1877.3 L987.2 1876.7 L995.4 1876.1 L1003.6 1875.5 L1011.9 1874.8 L1020.1 1874.2 L1028.3 1873.6 L1036.5 1872.9 L1044.7 1872.3 L1052.9 1871.6 L1061.1 1871.0 L1069.3 1870.3 L1077.5 1869.6 L1085.7 1868.9 L1093.9 1868.2 L1102.1 1867.6 L1110.3 1866.9 L1118.5 1866.1 L1126.8 1865.4 L1135.0 1864.7 L1143.2 1864.0 L1151.4 1863.3 L1159.6 1862.5 L1167.8 1861.8 L1176.0 1861.0 L1184.2 1860.3 L1192.4 1859.5 L1200.6 1858.8 L1208.8 1858.0 L1217.0 1857.2 L1225.2 1856.4 L1233.4 1855.6 L1241.7 1854.8 L1249.9 1854.0 L1258.1 1853.2 L1266.3 1852.4 L1274.5 1851.6 L1282.7 1850.7 L1290.9 1849.9 L1299.1 1849.1 L1307.3 1848.2 L1315.5 1847.4 L1323.7 1846.5 L1331.9 1845.6 L1340.1 1844.8 L1348.3 1843.9 L1356.6 1843.0 L1364.8 1842.1 L1373.0 1841.2 L1381.2 1840.3 L1389.4 1839.4 L1397.6 1838.5 L1405.8 1837.6 L1414.0 1836.7 L1422.2 1835.8 L1430.4 1834.8 L1438.6 1833.9 L1446.8 1832.9 L1455.0 1832.0 L1463.2 1831.0 L1471.4 1830.1 L1479.7 1829.1 L1487.9 1828.1 L1496.1 1827.2 L1504.3 1826.2 L1512.5 1825.2 L1520.7 1824.2 L1528.9 1823.2 L1537.1 1822.2 L1545.3 1821.2 L1553.5 1820.2 L1561.7 1819.1 L1569.9 1818.1 L1578.1 1817.1 L1586.3 1816.1 L1594.6 1815.0 L1602.8 1814.0 L1611.0 1812.9 L1619.2 1811.9 L1627.4 1810.8 L1635.6 1809.8 L1643.8 1808.7 L1652.0 1807.6 L1660.2 1806.5 L1668.4 1805.5 L1676.6 1804.4 L1684.8 1803.3 L1693.0 1802.2 L1701.2 1801.1 L1709.5 1800.0 L1717.7 1798.9 L1725.9 1797.8 L1734.1 1796.6 L1742.3 1795.5 L1750.5 1794.4 L1758.7 1793.3 L1766.9 1792.1 L1775.1 1791.0 L1783.3 1789.9 L1791.5 1788.7 L1799.7 1787.6 L1807.9 1786.4 L1816.1 1785.3 L1824.4 1784.1 L1832.6 1782.9 L1840.8 1781.8 L1849.0 1780.6 L1857.2 1779.4 L1865.4 1778.2 L1873.6 1777.1 L1881.8 1775.9 L1890.0 1774.7 L1898.2 1773.5 L1906.4 1772.3 L1914.6 1771.1 L1922.8 1769.9 L1931.0 1768.7 L1939.3 1767.5 L1947.5 1766.3 L1955.7 1765.1 L1963.9 1763.9 L1972.1 1762.7 L1980.3 1761.4 L1988.5 1760.2 L1996.7 1759.0" fill="none" stroke="#000" stroke-width="8" stroke-linecap="round" stroke-linejoin="round"/>
<g stroke="#46464d" fill="none">
<line x1="194.2" y1="1400" x2="2177.6" y2="1400" stroke-width="4.5" stroke="#58585f"/>
<line x1="196.7" y1="399.5" x2="196.7" y2="1402.2" stroke-width="5"/>
<line x1="2175.6" y1="399.5" x2="2175.6" y2="1402.2" stroke-width="4.4"/>
<line x1="194.2" y1="1967.9" x2="2177.6" y2="1967.9" stroke-width="5" stroke="#8e8e94"/>
<line x1="194.2" y1="1473.2" x2="2177.6" y2="1473.2" stroke-width="4.5"/>
<line x1="196.7" y1="1471" x2="196.7" y2="1970.3" stroke-width="4.8"/>
<line x1="2175.6" y1="1471" x2="2175.6" y2="1970.3" stroke-width="4.2" stroke="#3e3e45"/>
</g>
<line x1="180.0" y1="1400.0" x2="194.7" y2="1400.0" stroke="#5a5a62" stroke-width="3"/>
<line x1="180.0" y1="1289.0" x2="194.7" y2="1289.0" stroke="#5a5a62" stroke-width="3"/>
<line x1="181.0" y1="1178.0" x2="194.7" y2="1178.0" stroke="#111111" stroke-width="3.4"/>
<line x1="180.0" y1="1067.0" x2="194.7" y2="1067.0" stroke="#5a5a62" stroke-width="3"/>
<line x1="180.0" y1="956.0" x2="194.7" y2="956.0" stroke="#5a5a62" stroke-width="3"/>
<line x1="180.0" y1="845.0" x2="194.7" y2="845.0" stroke="#5a5a62" stroke-width="3"/>
<line x1="181.0" y1="734.0" x2="194.7" y2="734.0" stroke="#111111" stroke-width="3.4"/>
<line x1="180.0" y1="623.0" x2="194.7" y2="623.0" stroke="#5a5a62" stroke-width="3"/>
<line x1="2177.6" y1="1400.0" x2="2191.5" y2="1400.0" stroke="#5a5a62" stroke-width="3"/>
<line x1="2177.6" y1="1289.0" x2="2191.5" y2="1289.0" stroke="#5a5a62" stroke-width="3"/>
<line x1="2177.6" y1="1178.0" x2="2191.5" y2="1178.0" stroke="#111111" stroke-width="3.4"/>
<line x1="2177.6" y1="1067.0" x2="2191.5" y2="1067.0" stroke="#5a5a62" stroke-width="3"/>
<line x1="2177.6" y1="956.0" x2="2191.5" y2="956.0" stroke="#5a5a62" stroke-width="3"/>
<line x1="2177.6" y1="845.0" x2="2191.5" y2="845.0" stroke="#5a5a62" stroke-width="3"/>
<line x1="196.7" y1="1401.0" x2="196.7" y2="1415.7" stroke="#111111" stroke-width="3"/>
<line x1="358.8" y1="1401.0" x2="358.8" y2="1415.7" stroke="#111111" stroke-width="3"/>
<line x1="520.8" y1="1401.0" x2="520.8" y2="1415.7" stroke="#5a5a62" stroke-width="3"/>
<line x1="682.8" y1="1401.0" x2="682.8" y2="1415.7" stroke="#111111" stroke-width="3"/>
<line x1="844.9" y1="1401.0" x2="844.9" y2="1415.7" stroke="#5a5a62" stroke-width="3"/>
<line x1="1006.9" y1="1401.0" x2="1006.9" y2="1415.7" stroke="#111111" stroke-width="3"/>
<line x1="1169.0" y1="1401.0" x2="1169.0" y2="1415.7" stroke="#5a5a62" stroke-width="3"/>
<line x1="1331.0" y1="1401.0" x2="1331.0" y2="1415.7" stroke="#5a5a62" stroke-width="3"/>
<line x1="1493.1" y1="1401.0" x2="1493.1" y2="1415.7" stroke="#5a5a62" stroke-width="3"/>
<line x1="1655.1" y1="1401.0" x2="1655.1" y2="1415.7" stroke="#5a5a62" stroke-width="3"/>
<line x1="1817.2" y1="1401.0" x2="1817.2" y2="1415.7" stroke="#5a5a62" stroke-width="3"/>
<line x1="1979.2" y1="1401.0" x2="1979.2" y2="1415.7" stroke="#5a5a62" stroke-width="3"/>
<line x1="2141.3" y1="1401.0" x2="2141.3" y2="1415.7" stroke="#5a5a62" stroke-width="3"/>
<line x1="180.0" y1="1802.7" x2="194.7" y2="1802.7" stroke="#5a5a62" stroke-width="3"/>
<line x1="2177.6" y1="1802.7" x2="2191.5" y2="1802.7" stroke="#5a5a62" stroke-width="3"/>
<line x1="181.0" y1="1637.9" x2="194.7" y2="1637.9" stroke="#111111" stroke-width="3.4"/>
<line x1="2177.6" y1="1637.9" x2="2191.5" y2="1637.9" stroke="#111111" stroke-width="3.4"/>
<line x1="180" y1="1967.9" x2="196.7" y2="1967.9" stroke="#8e8e94" stroke-width="4.4"/>
<line x1="2175.6" y1="1967.9" x2="2191.5" y2="1967.9" stroke="#8e8e94" stroke-width="3.4"/>
<rect x="207.5" y="401.5" width="772.5" height="62" fill="#2f3d52"/>
<text class="ttl" x="225" y="447.3" font-size="48.5" fill="#ffffff" textLength="737" lengthAdjust="spacingAndGlyphs">Рабочие характеристики насоса</text>
<rect x="1467" y="402.5" width="706.4" height="62.4" fill="#ffffff"/>
<path d="M1467 401 V464.9 H2175.6" fill="none" stroke="#4c4c54" stroke-width="3.2"/>
<line x1="2174.8" y1="400.5" x2="2174.8" y2="465" stroke="#08080c" stroke-width="5.2"/>
<text transform="translate(1480.0 443.4) scale(1.0765 1)" font-size="39" text-anchor="start" fill="#000">NBG 100-65-200/162, 3*400 V, 50Hz</text>
<text transform="translate(161.2 1413.0) scale(1.06 1)" font-size="39.5" text-anchor="end" fill="#000">0</text>
<text transform="translate(161.2 1302.0) scale(1.06 1)" font-size="39.5" text-anchor="end" fill="#000">5</text>
<text transform="translate(166.7 1191.0) scale(1.06 1)" font-size="39.5" text-anchor="end" fill="#000">10</text>
<text transform="translate(166.7 1080.0) scale(1.06 1)" font-size="39.5" text-anchor="end" fill="#000">15</text>
<text transform="translate(166.7 969.0) scale(1.06 1)" font-size="39.5" text-anchor="end" fill="#000">20</text>
<text transform="translate(166.7 858.0) scale(1.06 1)" font-size="39.5" text-anchor="end" fill="#000">25</text>
<text transform="translate(166.7 747.0) scale(1.06 1)" font-size="39.5" text-anchor="end" fill="#000">30</text>
<text transform="translate(166.7 636.0) scale(1.06 1)" font-size="39.5" text-anchor="end" fill="#000">35</text>
<text transform="translate(2204.5 1411.0) scale(1.0 1)" font-size="39.5" text-anchor="start" fill="#000">0</text>
<text transform="translate(2203.5 1300.0) scale(1.06 1)" font-size="39.5" text-anchor="start" fill="#000">20</text>
<text transform="translate(2203.5 1189.0) scale(1.06 1)" font-size="39.5" text-anchor="start" fill="#000">40</text>
<text transform="translate(2203.5 1078.0) scale(1.06 1)" font-size="39.5" text-anchor="start" fill="#000">60</text>
<text transform="translate(2203.5 967.0) scale(1.06 1)" font-size="39.5" text-anchor="start" fill="#000">80</text>
<text transform="translate(2203.5 856.0) scale(1.06 1)" font-size="39.5" text-anchor="start" fill="#000">100</text>
<text transform="translate(195.7 1450.8) scale(1.01 1)" font-size="38.5" text-anchor="middle" fill="#000">0</text>
<text transform="translate(356.2 1450.8) scale(1.01 1)" font-size="38.5" text-anchor="middle" fill="#000">10</text>
<text transform="translate(518.3 1450.8) scale(1.07 1)" font-size="38.5" text-anchor="middle" fill="#000">20</text>
<text transform="translate(680.3 1450.8) scale(1.07 1)" font-size="38.5" text-anchor="middle" fill="#000">30</text>
<text transform="translate(842.4 1450.8) scale(1.07 1)" font-size="38.5" text-anchor="middle" fill="#000">40</text>
<text transform="translate(1004.4 1450.8) scale(1.07 1)" font-size="38.5" text-anchor="middle" fill="#000">50</text>
<text transform="translate(1166.5 1450.8) scale(1.07 1)" font-size="38.5" text-anchor="middle" fill="#000">60</text>
<text transform="translate(1328.5 1450.8) scale(1.07 1)" font-size="38.5" text-anchor="middle" fill="#000">70</text>
<text transform="translate(1490.6 1450.8) scale(1.07 1)" font-size="38.5" text-anchor="middle" fill="#000">80</text>
<text transform="translate(1652.6 1450.8) scale(1.07 1)" font-size="38.5" text-anchor="middle" fill="#000">90</text>
<text transform="translate(1814.7 1450.8) scale(1.07 1)" font-size="38.5" text-anchor="middle" fill="#000">100</text>
<text transform="translate(2154.5 1450.6) scale(1.02 1)" font-size="39" text-anchor="end" fill="#000">Q [м³/ч]</text>
<text transform="translate(161.2 1980.5) scale(1.06 1)" font-size="39.5" text-anchor="end" fill="#000">0</text>
<text transform="translate(2204.5 1978.5) scale(1.0 1)" font-size="39.5" text-anchor="start" fill="#000">0</text>
<text transform="translate(161.2 1815.7) scale(1.06 1)" font-size="39.5" text-anchor="end" fill="#000">5</text>
<text transform="translate(2204.5 1813.7) scale(1.0 1)" font-size="39.5" text-anchor="start" fill="#000">5</text>
<text transform="translate(166.7 1650.9) scale(1.06 1)" font-size="39.5" text-anchor="end" fill="#000">10</text>
<text transform="translate(2203.5 1648.9) scale(1.06 1)" font-size="39.5" text-anchor="start" fill="#000">10</text>
<text transform="translate(112.4 431.5) scale(1.0 1)" font-size="40.5" text-anchor="middle" fill="#000">H</text>
<text transform="translate(111.5 479.4) scale(1.07 1)" font-size="39" text-anchor="middle" fill="#000">[м]</text>
<text transform="translate(2271.0 431.8) scale(1.05 1)" font-size="39" text-anchor="middle" fill="#000">eta</text>
<text transform="translate(2267.5 480.0) scale(1.03 1)" font-size="39" text-anchor="middle" fill="#000">[%]</text>
<text transform="translate(95.5 1503.5) scale(1.03 1)" font-size="40.5" text-anchor="middle" fill="#000">P</text>
<text transform="translate(93.8 1551.5) scale(1.05 1)" font-size="39.5" text-anchor="middle" fill="#000">[кВт]</text>
<text transform="translate(2286.4 1503.6) scale(1.0 1)" font-size="40.5" text-anchor="middle" fill="#000">NPSH</text>
<text transform="translate(2283.9 1551.6) scale(1.07 1)" font-size="39" text-anchor="middle" fill="#000">[м]</text>
<text transform="translate(1968.7 1567.5) scale(1.04 1)" font-size="40.5" text-anchor="start" fill="#1a59a3">P1</text>
<text transform="translate(1968.7 1663.3) scale(1.02 1)" font-size="40.5" text-anchor="start" fill="#1a59a3">P2</text>
</svg></body></html>
